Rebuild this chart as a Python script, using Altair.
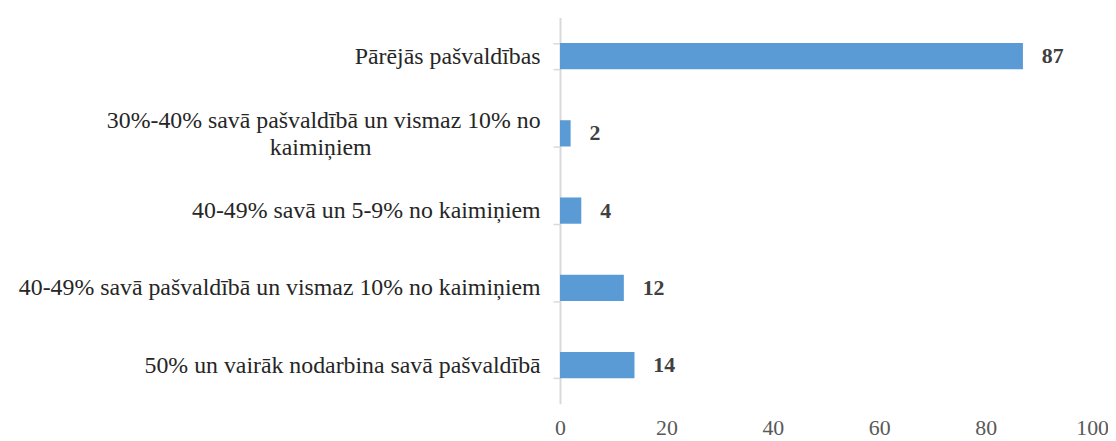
import altair as alt
import pandas as pd

categories = [
    "Pārējās pašvaldības",
    "30%-40% savā pašvaldībā un vismaz 10% no",
    "40-49% savā un  5-9% no kaimiņiem",
    "40-49% savā pašvaldībā un vismaz 10% no kaimiņiem",
    "50% un vairāk nodarbina savā pašvaldībā",
]
values = [87, 2, 4, 12, 14]
second_line_cat = ["30%-40% savā pašvaldībā un vismaz 10% no"]
second_line_txt = ["kaimiņiem"]
x_ticks = [0, 20, 40, 60, 80, 100]

df = pd.DataFrame({"cat": categories, "val": values})
df2 = pd.DataFrame({"cat": second_line_cat, "txt": second_line_txt})

FONT = "Liberation Serif"
wrapped = categories[1]

y_enc = alt.Y(
    "cat:N",
    sort=categories,
    title=None,
    scale=alt.Scale(paddingInner=0.66, paddingOuter=0.33),
    axis=alt.Axis(
        labelFont=FONT,
        labelFontSize=24,
        labelColor="#262626",
        labelPadding=13,
        labelLimit=700,
        tickBand="extent",
        tickColor="#d9d9d9",
        tickSize=7,
        tickWidth=1.5,
        domainColor="#d9d9d9",
        domainWidth=2,
        labelOffset=alt.condition(f"datum.value == '{wrapped}'", alt.value(-13), alt.value(0)),
    ),
)

bars = alt.Chart(df).mark_bar(color="#5b9bd5").encode(
    x=alt.X(
        "val:Q",
        title=None,
        scale=alt.Scale(domain=[0, 100]),
        axis=alt.Axis(
            values=x_ticks,
            grid=False,
            domain=False,
            ticks=False,
            labelFlush=False,
            labelFont=FONT,
            labelFontSize=22,
            labelColor="#595959",
            labelPadding=14,
        ),
    ),
    y=y_enc,
)

vals = alt.Chart(df).mark_text(
    align="left", baseline="middle", dx=19, font=FONT, fontSize=22,
    fontWeight="bold", color="#404040",
).encode(x="val:Q", y=alt.Y("cat:N", sort=categories), text="val:Q")

second = alt.Chart(df2).mark_text(
    align="center", baseline="middle", dy=15, font=FONT, fontSize=24, color="#262626",
).encode(x=alt.value(-241), y=alt.Y("cat:N", sort=categories), text="txt:N")

chart = alt.layer(bars, vals, second).properties(
    width=536, height=389,
    autosize=alt.AutoSizeParams(type="none"),
    padding={"left": 556, "top": 8, "right": 16, "bottom": 36},
    background="white",
).configure_view(strokeWidth=0)

chart.save("out.html", embed_options={"renderer": "svg", "actions": False})
